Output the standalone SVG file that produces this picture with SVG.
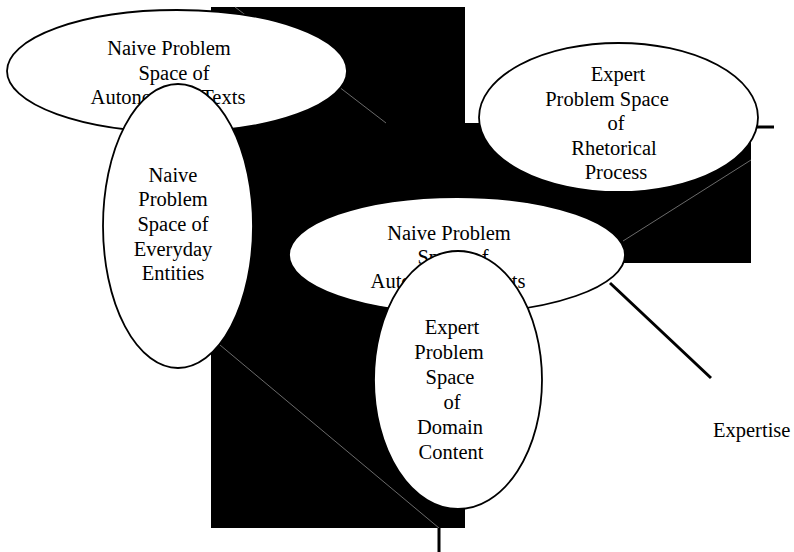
<svg xmlns="http://www.w3.org/2000/svg" width="794" height="552" viewBox="0 0 794 552">
<style>
.node ellipse{fill:#fff;stroke:#000;stroke-width:1.8}
text{font-size:20.5px;fill:#000;text-anchor:middle}
.thin{stroke:#6a6a6a;stroke-width:1;fill:none}
.thick{stroke:#000;stroke-width:3;fill:none}
</style>
<rect width="794" height="552" fill="#fff"/>
<g id="background-fill">
<path d="M211 7 H465 V123 H751 V263 H465 V528 H211 Z" fill="#000"/>
</g>
<g id="connectors">
<line class="thin" x1="235" y1="7" x2="386" y2="123"/>
<line class="thin" x1="751" y1="160" x2="623" y2="241"/>
<line class="thin" x1="220" y1="345" x2="439" y2="528"/>
<line class="thick" x1="756" y1="127" x2="774" y2="127"/>
<line class="thick" x1="610" y1="283" x2="711" y2="378"/>
<line class="thick" x1="439" y1="528" x2="439" y2="552"/>
</g>
<g font-family="'Liberation Serif', 'Times New Roman', 'DejaVu Serif', serif">
<g id="naive-autonomous-top" class="node">
<ellipse cx="177" cy="71" rx="170" ry="61"/>
<text x="169" y="55">Naive Problem</text>
<text x="174" y="80">Space of</text>
<text x="168" y="104">Autonomous Texts</text>
</g>
<g id="naive-everyday" class="node">
<ellipse cx="178" cy="226" rx="75" ry="142"/>
<text x="173" y="182">Naive</text>
<text x="173" y="206">Problem</text>
<text x="173" y="231">Space of</text>
<text x="173" y="256">Everyday</text>
<text x="173" y="280">Entities</text>
</g>
<g id="expert-rhetorical" class="node">
<ellipse cx="618.5" cy="117.5" rx="139.5" ry="74.5"/>
<text x="618" y="81">Expert</text>
<text x="607" y="106">Problem Space</text>
<text x="616" y="130">of</text>
<text x="614" y="155">Rhetorical</text>
<text x="616" y="179">Process</text>
</g>
<g id="naive-autonomous-middle" class="node">
<ellipse cx="457" cy="255" rx="168" ry="58"/>
<text x="449" y="240">Naive Problem</text>
<text x="453" y="264">Space of</text>
<text x="448" y="288">Autonomous Texts</text>
</g>
<g id="expert-domain" class="node">
<ellipse cx="458" cy="380" rx="84" ry="129"/>
<text x="452" y="334">Expert</text>
<text x="449" y="359">Problem</text>
<text x="450" y="384">Space</text>
<text x="452" y="409">of</text>
<text x="450" y="434">Domain</text>
<text x="451" y="459">Content</text>
</g>
<g id="expertise-label">
<text x="713" y="437" style="text-anchor:start">Expertise</text>
</g>
</g>
</svg>
